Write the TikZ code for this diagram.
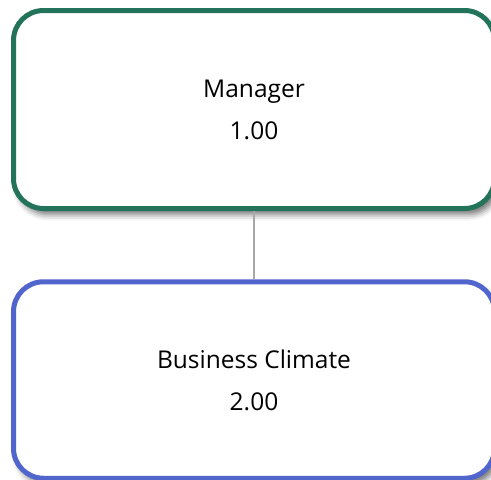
\documentclass[tikz,border=0pt]{standalone}
\usepackage{fontspec}
\setmainfont{Open Sans}
\usetikzlibrary{positioning, shadows.blur}
\definecolor{mgrgreen}{HTML}{22735A}
\definecolor{climblue}{HTML}{5066CC}
\definecolor{linkgray}{HTML}{A8A8A8}

\begin{document}
\begin{tikzpicture}[x=1pt, y=-1pt,
    box/.style={rectangle, rounded corners=30pt, draw=#1, line width=5pt, fill=white,
                minimum width=481pt, minimum height=198pt, align=center,
                font=\fontsize{24.5}{42}\selectfont,
                blur shadow={shadow xshift=4pt, shadow yshift=-6pt, shadow blur radius=6pt, shadow opacity=55}},
    link/.style={draw=linkgray, line width=2pt}
]
\useasboundingbox (0,0) rectangle (491,480);
\node[box=mgrgreen] (mgr) at (254,109.5) {Manager\\1.00};
\node[box=climblue, minimum height=196.5pt] (clim) at (254,380) {Business Climate\\2.00};
\draw[link] (mgr) -- (clim);
\end{tikzpicture}
\end{document}
